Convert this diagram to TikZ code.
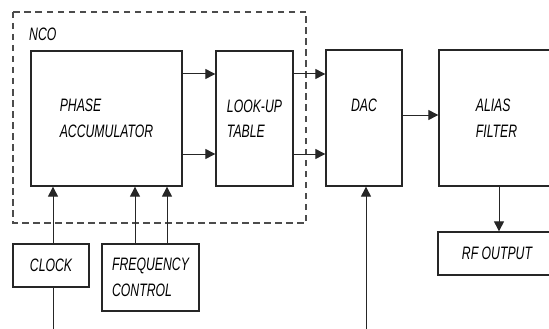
\documentclass[tikz,border=0pt]{standalone}
\usepackage{fontspec}
\setmainfont{Liberation Sans}[FakeStretch=0.68]
\usetikzlibrary{arrows.meta,positioning,calc}

\begin{document}
\begin{tikzpicture}[
    x=1pt, y=-1pt,
    box/.style={draw=black!85, line width=1.3pt, inner sep=0pt, align=left, font=\itshape\fontsize{18}{25.5}\selectfont},
    arrow/.style={-{Triangle[length=10pt,width=10pt]}, line width=1pt, draw=black!85},
    wire/.style={line width=1pt, draw=black!85},
    tag/.style={font=\itshape\fontsize{18}{25.5}\selectfont, inner sep=0pt, anchor=west}
]
    \useasboundingbox (0,0) rectangle (549,329);

    % NCO frame
    \draw[black!70, line width=1.3pt, dash pattern=on 6.5pt off 4.5pt] (13,12) rectangle (306,223);
    \node[tag] (ncolbl) at (29,34) {NCO};

    % Blocks
    \node[box, minimum width=151pt, minimum height=135pt] (pa) at (106.5,118.5) {PHASE\\ACCUMULATOR};
    \node[box, minimum width=77pt, minimum height=135pt] (lut) at (254.5,118.5) {LOOK-UP\\TABLE};
    \node[box, minimum width=76pt, minimum height=136pt, align=center] (dac) at (364,118) {DAC\\\phantom{X}};
    \node[box, minimum width=115pt, minimum height=136pt] (alias) at (496.5,118) {ALIAS\\FILTER};
    \node[box, minimum width=118pt, minimum height=43pt] (rf) at (497,253.5) {RF OUTPUT};

    % Inputs
    \node[box, minimum width=76pt, minimum height=43pt] (clock) at (51,265.5) {CLOCK};
    \node[box, minimum width=97pt, minimum height=67pt] (freq) at (150.5,277.5) {FREQUENCY\\CONTROL};

    % Helper coordinates
    \coordinate (hi) at (0,74);
    \coordinate (lo) at (0,154);
    \coordinate (mid) at (0,115);
    \coordinate (clk) at (53,0);
    \coordinate (fa) at (135,0);
    \coordinate (fb) at (167,0);
    \coordinate (out) at (499,0);
    \coordinate (clkin) at (53,329);
    \coordinate (dacin) at (366,329);

    % Arrows
    \draw[arrow] (pa.east |- hi) -- (lut.west |- hi);
    \draw[arrow] (pa.east |- lo) -- (lut.west |- lo);
    \draw[arrow] (lut.east |- hi) -- (dac.west |- hi);
    \draw[arrow] (lut.east |- lo) -- (dac.west |- lo);
    \draw[arrow] (dac.east |- mid) -- (alias.west |- mid);
    \draw[arrow] (alias.south -| out) -- (rf.north -| out);
    \draw[arrow] (clock.north -| clk) -- (pa.south -| clk);
    \draw[arrow] (freq.north -| fa) -- (pa.south -| fa);
    \draw[arrow] (freq.north -| fb) -- (pa.south -| fb);
    \draw[wire] (clock.south -| clk) -- (clkin);
    \draw[arrow] (dacin) -- (dac.south -| dacin);
\end{tikzpicture}
\end{document}
